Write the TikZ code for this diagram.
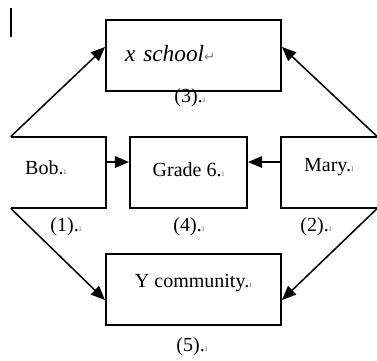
\documentclass[tikz,border=0pt]{standalone}
\usepackage{fontspec}
\setmainfont{Liberation Serif}
\newfontfamily\symfont{DejaVu Sans}
\usetikzlibrary{
    arrows.meta,
    positioning
}
\newcommand{\pmark}{{\fontsize{6}{6}\selectfont\color{gray}ı}}
\newcommand{\retmark}{{\symfont\fontsize{8}{8}\selectfont\color{gray}↵}}
\tikzset{
  wide/.style    = {draw, line width=1.2pt, minimum width=105pt,
                    minimum height=42.6pt, font=\fontsize{12}{14}\selectfont},
  mid/.style     = {draw, line width=1.2pt, minimum width=70.2pt,
                    minimum height=42.6pt, font=\fontsize{12}{14}\selectfont},
  side/.style    = {minimum width=57pt, minimum height=42.6pt,
                    font=\fontsize{12}{14}\selectfont},
  edge/.style    = {line width=1.2pt},
  arr/.style     = {-{Triangle[length=8.5pt,width=7pt]}, line width=0.9pt},
  num/.style     = {font=\fontsize{12}{14}\selectfont}
}

\begin{document}
\begin{tikzpicture}[x=0.6pt, y=-0.6pt]

\useasboundingbox (0,0) rectangle (377,360);

%% cursor
\draw[line width=1.3pt] (11,8) -- (11,37);

\node[wide, align=left, text width=82pt, inner xsep=11.4pt, text depth=3pt,
      font=\fontsize{14}{16}\selectfont]  (school) at (193.5,55.5) {\textit{x school}\retmark};
\node[side, align=left, text width=40pt, inner xsep=8.4pt, text depth=5.4pt] (bob) at (58.5,172.5) {Bob.\pmark};
\node[mid, text depth=3pt]  (grade) at (188.5,172.5) {Grade 6.\pmark};
\node[side, minimum width=57.6pt, text depth=9pt] (mary) at (329,172.5) {Mary.\pmark};
\node[wide, text depth=9.6pt] (comm) at (193.5,289) {Y community.\pmark};

%% open sides
\draw[edge] (bob.north west) -- (bob.north east) -- (bob.south east) -- (bob.south west);
\draw[edge] (mary.north east) -- (mary.north west) -- (mary.south west) -- (mary.south east);

\node[num] (n3) at (190,98)  {(3).\pmark};
\node[num] (n1) at (66,227)  {(1).\pmark};
\node[num] (n4) at (189,227) {(4).\pmark};
\node[num] (n2) at (316,227) {(2).\pmark};
\node[num] (n5) at (192,347) {(5).\pmark};

\draw[arr] ([yshift=6.3pt]bob.east)  -- ([yshift=6.3pt]grade.west);
\draw[arr] ([yshift=6.3pt]mary.west) -- ([yshift=6.3pt]grade.east);

\draw[arr] (bob.north west)  -- ([yshift=5.1pt]school.west);
\draw[arr] (mary.north east) -- ([yshift=5.1pt]school.east);
\draw[arr] (bob.south west)  -- ([yshift=-6.6pt]comm.west);
\draw[arr] (mary.south east) -- ([yshift=-6.6pt]comm.east);

\end{tikzpicture}
\end{document}
